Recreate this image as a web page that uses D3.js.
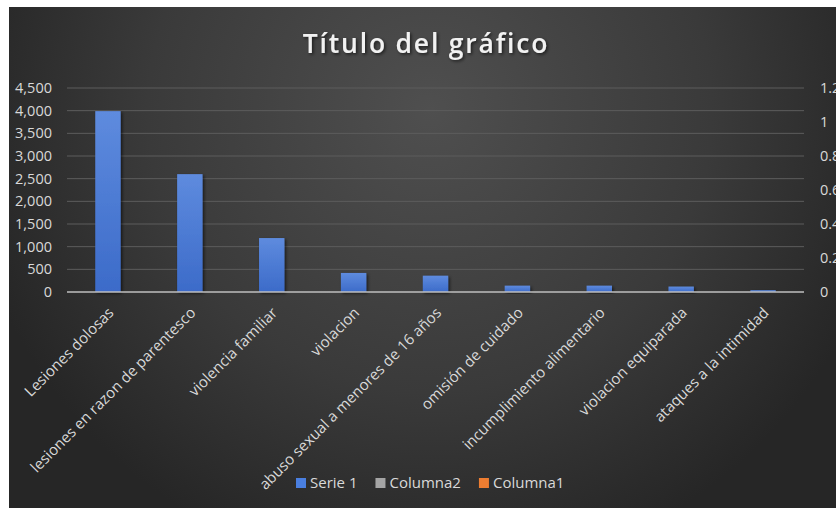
<!DOCTYPE html>
<html>
<head>
<meta charset="utf-8">
<script src="https://cdn.jsdelivr.net/npm/d3@7"></script>
<style>
  body { margin: 0; background: #fff; }
  text { font-family: "Open Sans", sans-serif; }
</style>
</head>
<body>
<div id="chart"></div>
<script>
// datos
const categorias = ['Lesiones dolosas', 'lesiones en razon de parentesco', 'violencia familiar',
  'violacion', 'abuso sexual a menores de 16 años', 'omisión de cuidado',
  'incumplimiento alimentario', 'violacion equiparada', 'ataques a la intimidad'];
const serie1 = [3990, 2600, 1190, 420, 360, 140, 140, 120, 40];
const ticksIzq = [0, 500, 1000, 1500, 2000, 2500, 3000, 3500, 4000, 4500];
const ticksDer = [0, 0.2, 0.4, 0.6, 0.8, 1, 1.2];
const leyenda = [{name: 'Serie 1', color: '#4a7fe0'}, {name: 'Columna2', color: '#a5a5a5'}, {name: 'Columna1', color: '#ed7d31'}];

const W = 836, H = 508;
const m = {left: 67, right: 32, top: 88, bottom: 216};
const fs = 14.5, fsCat = 15;

let svg = d3.select('#chart').append('svg').attr('width', W).attr('height', H);
let defs = svg.append('defs');

let bg = defs.append('radialGradient').attr('id', 'bg')
  .attr('gradientUnits', 'userSpaceOnUse')
  .attr('cx', 430).attr('cy', 110).attr('r', 470);
bg.append('stop').attr('offset', '0%').attr('stop-color', '#4f4f4f');
bg.append('stop').attr('offset', '60%').attr('stop-color', '#3a3a3a');
bg.append('stop').attr('offset', '100%').attr('stop-color', '#262626');

let barG = defs.append('linearGradient').attr('id', 'bar').attr('x1', 0).attr('y1', 0).attr('x2', 0).attr('y2', 1);
barG.append('stop').attr('offset', '0%').attr('stop-color', '#5e8bde');
barG.append('stop').attr('offset', '100%').attr('stop-color', '#3c6bc9');

let sh = defs.append('filter').attr('id', 'sh').attr('x', '-30%').attr('y', '-30%').attr('width', '160%').attr('height', '160%');
sh.append('feDropShadow').attr('dx', 1.5).attr('dy', 1.5).attr('stdDeviation', 1.5).attr('flood-color', '#000').attr('flood-opacity', 0.6);

svg.append('rect').attr('x', 9).attr('y', 7).attr('width', W - 9).attr('height', H - 7).attr('fill', 'url(#bg)');

svg.append('text').attr('x', 426).attr('y', 53)
  .attr('text-anchor', 'middle').attr('font-size', 26.5).attr('font-weight', 600)
  .attr('letter-spacing', 1.8).attr('fill', '#f2f2f2').attr('filter', 'url(#sh)')
  .text('Título del gráfico');

let x = d3.scaleBand().domain(categorias).range([m.left, W - m.right]).paddingInner(0.69).paddingOuter(0.345);
let y = d3.scaleLinear().domain([0, 4500]).range([H - m.bottom, m.top]);
let y2 = d3.scaleLinear().domain([0, 1.2]).range([H - m.bottom, m.top]);

// lineas de cuadricula
svg.append('g').selectAll('line').data(ticksIzq.slice(1)).enter().append('line')
  .attr('x1', m.left).attr('x2', W - m.right)
  .attr('y1', d => y(d)).attr('y2', d => y(d))
  .attr('stroke', '#5d5d5d').attr('stroke-width', 1);

// eje izquierdo
let ax = svg.append('g').attr('transform', `translate(${m.left},0)`)
  .call(d3.axisLeft(y).tickValues(ticksIzq).tickFormat(d3.format(',')).tickSize(0).tickPadding(15));
ax.select('.domain').remove();
ax.selectAll('text').attr('fill', '#d9d9d9').attr('font-size', fs).attr('font-family', '"Open Sans", sans-serif');

// eje derecho (recortado por el borde, como en el original)
let ax2 = svg.append('g').attr('transform', `translate(${W - m.right},0)`)
  .call(d3.axisRight(y2).tickValues(ticksDer).tickFormat(d => d3.format('')(+d.toFixed(1))).tickSize(0).tickPadding(16));
ax2.select('.domain').remove();
ax2.selectAll('text').attr('fill', '#d9d9d9').attr('font-size', fs).attr('font-family', '"Open Sans", sans-serif');

// barras
svg.append('g').selectAll('rect').data(serie1).enter().append('rect')
  .attr('x', (d, i) => x(categorias[i]))
  .attr('width', x.bandwidth())
  .attr('y', d => y(d))
  .attr('height', d => y(0) - y(d))
  .attr('fill', 'url(#bar)')
  .attr('filter', 'url(#sh)');

// linea base
svg.append('line').attr('x1', m.left).attr('x2', W - m.right)
  .attr('y1', y(0)).attr('y2', y(0)).attr('stroke', '#bfbfbf').attr('stroke-width', 1.5);

// etiquetas de categorias
svg.append('g').selectAll('text').data(categorias).enter().append('text')
  .attr('transform', d => `translate(${x(d) + x.bandwidth() / 2 + 3},${y(0) + 18}) rotate(-45)`)
  .attr('text-anchor', 'end').attr('dy', '0.35em')
  .attr('font-size', fsCat).attr('fill', '#d9d9d9')
  .text(d => d);

// leyenda
let lg = svg.append('g').attr('transform', 'translate(296,483)');
let lx = 0;
leyenda.forEach(l => {
  let g = lg.append('g').attr('transform', `translate(${lx},0)`);
  g.append('rect').attr('x', 0).attr('y', -5).attr('width', 10).attr('height', 10).attr('fill', l.color);
  let t = g.append('text').attr('x', 14).attr('dy', '0.35em').attr('font-size', fsCat).attr('fill', '#d9d9d9').text(l.name);
  lx += 14 + t.node().getComputedTextLength() + 18;
});
</script>
</body>
</html>
